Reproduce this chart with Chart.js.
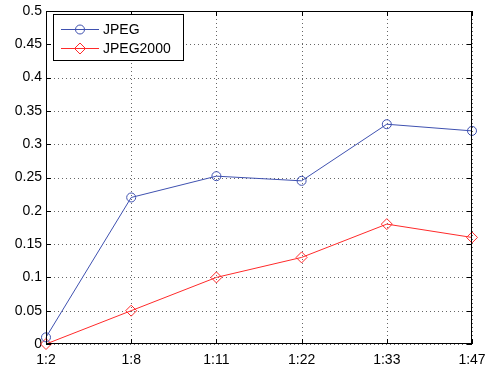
<!DOCTYPE html>
<html>
<head>
<meta charset="utf-8">
<script src="https://cdn.jsdelivr.net/npm/chart.js@4"></script>
<style>
  html, body { margin: 0; padding: 0; background: #fff; }
  #wrap { width: 485px; height: 369px; }
</style>
</head>
<body>
<div id="wrap"><canvas id="chart" width="485" height="369"></canvas></div>
<script>
// ============================================
// Data
// ============================================
const ratios = ['1:2', '1:8', '1:11', '1:22', '1:33', '1:47'];
const jpegValues = [0.01, 0.22, 0.252, 0.245, 0.33, 0.32];
const jpeg2000Values = [0, 0.05, 0.10, 0.13, 0.18, 0.16];
const yTicks = [0, 0.05, 0.1, 0.15, 0.2, 0.25, 0.3, 0.35, 0.4, 0.45, 0.5];

const BLUE = '#3f51b0';
const RED = '#ff2a2a';
const FONT_FAMILY = '"Liberation Sans", Arial, sans-serif';

// Dotted grid drawn under the data
const matlabGrid = {
    id: 'matlabGrid',
    beforeDatasetsDraw(chart) {
        const { ctx, chartArea: a, scales } = chart;
        ctx.save();
        ctx.strokeStyle = '#666';
        ctx.lineWidth = 1;
        ctx.setLineDash([1, 3]);
        ctx.beginPath();
        scales.x.ticks.forEach((t, i) => {
            const x = Math.round(scales.x.getPixelForTick(i)) + 0.5;
            ctx.moveTo(x, a.top); ctx.lineTo(x, a.bottom);
        });
        scales.y.ticks.forEach((t, i) => {
            const y = Math.round(scales.y.getPixelForTick(i)) + 0.5;
            ctx.moveTo(a.left, y); ctx.lineTo(a.right, y);
        });
        ctx.stroke();
        ctx.restore();
    }
};

// Box, inward ticks and legend drawn MATLAB-style
const matlabFrame = {
    id: 'matlabFrame',
    afterDatasetsDraw(chart) {
        const { ctx, chartArea: a, scales } = chart;
        ctx.save();
        ctx.strokeStyle = '#000';
        ctx.lineWidth = 1;
        ctx.strokeRect(a.left + 0.5, a.top + 0.5, a.right - a.left - 1, a.bottom - a.top - 1);

        // inward ticks
        ctx.beginPath();
        scales.x.ticks.forEach((t, i) => {
            const x = Math.round(scales.x.getPixelForTick(i)) + 0.5;
            ctx.moveTo(x, a.bottom); ctx.lineTo(x, a.bottom - 5);
            ctx.moveTo(x, a.top); ctx.lineTo(x, a.top + 5);
        });
        scales.y.ticks.forEach((t, i) => {
            const y = Math.round(scales.y.getPixelForTick(i)) + 0.5;
            ctx.moveTo(a.left, y); ctx.lineTo(a.left + 5, y);
            ctx.moveTo(a.right, y); ctx.lineTo(a.right - 5, y);
        });
        ctx.stroke();

        // legend
        const bx = 53.5, by = 14.5, bw = 130, bh = 46;
        ctx.fillStyle = '#fff';
        ctx.fillRect(bx, by, bw, bh);
        ctx.strokeRect(bx, by, bw, bh);
        ctx.font = '14px ' + FONT_FAMILY;
        ctx.textBaseline = 'middle';
        chart.data.datasets.forEach((ds, i) => {
            const y = 29.5 + i * 19;
            ctx.strokeStyle = ds.borderColor;
            ctx.beginPath();
            ctx.moveTo(61, y); ctx.lineTo(99, y);
            ctx.stroke();
            ctx.fillStyle = 'rgba(0,0,0,0)';
            Chart.helpers.drawPoint(ctx, {
                pointStyle: ds.pointStyle,
                radius: ds.pointRadius,
                rotation: 0,
                borderWidth: 1
            }, 80, y);
            ctx.fillStyle = '#000';
            ctx.fillText(ds.label, 103, y + 1);
        });
        ctx.restore();
    }
};

new Chart(document.getElementById('chart'), {
    type: 'line',
    data: {
        labels: ratios,
        datasets: [
            {
                label: 'JPEG',
                data: jpegValues,
                borderColor: BLUE,
                backgroundColor: 'rgba(0,0,0,0)',
                borderWidth: 1,
                pointStyle: 'circle',
                pointRadius: 4.5,
                pointBorderWidth: 1,
                tension: 0
            },
            {
                label: 'JPEG2000',
                data: jpeg2000Values,
                borderColor: RED,
                backgroundColor: 'rgba(0,0,0,0)',
                borderWidth: 1,
                pointStyle: 'rectRot',
                pointRadius: 5.5,
                pointBorderWidth: 1,
                tension: 0
            }
        ]
    },
    options: {
        responsive: false,
        animation: false,
        clip: false,
        layout: { padding: { top: 11, right: 13, left: 0, bottom: 0 } },
        plugins: {
            legend: { display: false },
            tooltip: { enabled: false }
        },
        scales: {
            x: {
                type: 'category',
                offset: false,
                grid: { display: false, drawTicks: false },
                border: { display: false },
                ticks: {
                    color: '#000',
                    font: { family: FONT_FAMILY, size: 14 },
                    padding: 8,
                    maxRotation: 0,
                    autoSkip: false
                },
                afterFit(scale) {
                    scale.height = 25;
                    scale.paddingLeft = 0;
                    scale.paddingRight = 0;
                }
            },
            y: {
                min: 0,
                max: 0.5,
                afterBuildTicks(scale) {
                    scale.ticks = yTicks.map(v => ({ value: v }));
                },
                grid: { display: false, drawTicks: false },
                border: { display: false },
                ticks: {
                    color: '#000',
                    font: { family: FONT_FAMILY, size: 14 },
                    padding: 4,
                    callback: v => String(Number(v.toFixed(2)))
                },
                afterFit(scale) {
                    scale.width = 46;
                    scale.paddingTop = 0;
                    scale.paddingBottom = 0;
                }
            }
        }
    },
    plugins: [matlabGrid, matlabFrame]
});
</script>
</body>
</html>
